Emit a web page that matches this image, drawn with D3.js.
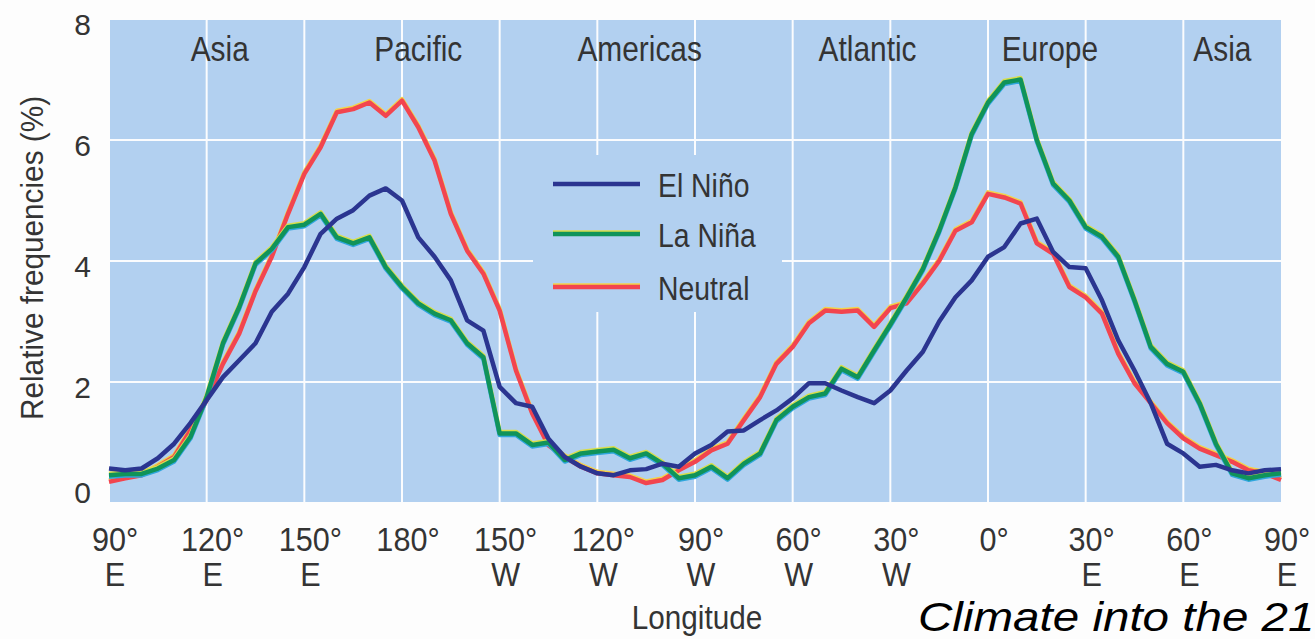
<!DOCTYPE html>
<html lang="en">
<head>
<meta charset="UTF-8">
<title>Relative frequencies by longitude</title>
<script src="https://d3js.org/d3.v7.min.js"></script>
<style>
  body { margin: 0; background: #fdfdfd; }
  svg { display: block; }
  text { font-family: "Liberation Sans", Arial, sans-serif; fill: #343434; }
  .credit { font-style: italic; fill: #000; }
</style>
</head>
<body>
<script>
// longitude, counted eastward from 90°E (so 450 = 90°E again)
var lon = [90, 95, 100, 105, 110, 115, 120, 125, 130, 135, 140, 145, 150, 155, 160, 165, 170, 175,
           180, 185, 190, 195, 200, 205, 210, 215, 220, 225, 230, 235, 240, 245, 250, 255, 260, 265,
           270, 275, 280, 285, 290, 295, 300, 305, 310, 315, 320, 325, 330, 335, 340, 345, 350, 355,
           360, 365, 370, 375, 380, 385, 390, 395, 400, 405, 410, 415, 420, 425, 430, 435, 440, 445, 450];

var elNino = [0.57, 0.54, 0.57, 0.74, 0.98, 1.32, 1.7, 2.08, 2.36, 2.64, 3.16, 3.46, 3.9, 4.45, 4.7, 4.84, 5.08, 5.2,
              5.0, 4.39, 4.07, 3.68, 3.02, 2.85, 1.92, 1.65, 1.59, 1.06, 0.76, 0.6, 0.49, 0.46, 0.54, 0.56, 0.65, 0.6,
              0.82, 0.96, 1.18, 1.2, 1.37, 1.53, 1.73, 1.98, 1.98, 1.86, 1.75, 1.65, 1.86, 2.19, 2.5, 3.0, 3.4, 3.68,
              4.07, 4.23, 4.62, 4.7, 4.15, 3.9, 3.88, 3.35, 2.69, 2.19, 1.65, 0.98, 0.82, 0.6, 0.63, 0.54, 0.49, 0.54, 0.56];

var laNina = [0.46, 0.48, 0.48, 0.57, 0.71, 1.09, 1.75, 2.64, 3.24, 3.96, 4.2, 4.56, 4.6, 4.78, 4.39, 4.29, 4.39, 3.9,
              3.57, 3.3, 3.13, 3.02, 2.64, 2.41, 1.15, 1.15, 0.96, 1.0, 0.71, 0.82, 0.85, 0.88, 0.74, 0.82, 0.65, 0.41,
              0.46, 0.6, 0.41, 0.65, 0.82, 1.37, 1.59, 1.75, 1.81, 2.22, 2.08, 2.52, 2.95, 3.4, 3.87, 4.5, 5.22, 6.1,
              6.62, 6.95, 7.0, 6.0, 5.28, 5.0, 4.56, 4.4, 4.07, 3.35, 2.58, 2.3, 2.17, 1.65, 0.98, 0.49, 0.41, 0.46, 0.49];

var neutral = [0.35, 0.41, 0.46, 0.6, 0.76, 1.2, 1.7, 2.3, 2.8, 3.5, 4.07, 4.78, 5.44, 5.88, 6.46, 6.51, 6.62, 6.4,
               6.65, 6.21, 5.66, 4.78, 4.17, 3.79, 3.18, 2.19, 1.48, 0.95, 0.76, 0.6, 0.49, 0.46, 0.43, 0.33, 0.38, 0.54,
               0.68, 0.87, 0.98, 1.37, 1.75, 2.3, 2.58, 2.97, 3.18, 3.16, 3.18, 2.91, 3.22, 3.3, 3.63, 4.0, 4.5, 4.64,
               5.11, 5.05, 4.95, 4.29, 4.12, 3.57, 3.4, 3.13, 2.47, 1.98, 1.65, 1.32, 1.07, 0.9, 0.79, 0.68, 0.54, 0.49, 0.38];

var seriesNames = ["El Niño", "La Niña", "Neutral"];

var tickLon = [90, 120, 150, 180, 210, 240, 270, 300, 330, 360, 390, 420, 450];
var tickDeg = ["90°", "120°", "150°", "180°", "150°", "120°", "90°", "60°", "30°", "0°", "30°", "60°", "90°"];
var tickHemi = ["E", "E", "E", "", "W", "W", "W", "W", "W", "", "E", "E", "E"];

var yTicks = [0, 2, 4, 6, 8];

var regionNames = ["Asia", "Pacific", "Americas", "Atlantic", "Europe", "Asia"];
var regionLon = [124, 185, 253, 323, 379, 432];

var W = 1315, H = 639;
var bg = "#b2d0f0";

var x = d3.scaleLinear().domain([90, 450]).range([109, 1281]);
var y = d3.scaleLinear().domain([0, 8]).range([503, 19]);

var svg = d3.select("body").append("svg")
    .attr("width", W)
    .attr("height", H);

// the print uses a condensed face; squeeze Liberation Sans horizontally
function label(parent, px, py, str, size, anchor, sx, rot) {
    return parent.append("text")
        .attr("transform", "translate(" + px + "," + py + ")" + (rot ? " rotate(" + rot + ")" : "") + " scale(" + sx + ",1)")
        .attr("text-anchor", anchor)
        .style("font-size", size + "px")
        .text(str);
}

// plot background
svg.append("rect")
    .attr("x", 110).attr("y", 20)
    .attr("width", 1171).attr("height", 482)
    .attr("fill", bg);

// grid
var grid = svg.append("g").attr("stroke", "#fff").attr("stroke-width", 2).attr("opacity", 0.95);
grid.selectAll("line.v")
    .data(tickLon.slice(1, -1))
    .enter().append("line")
    .attr("class", "v")
    .attr("x1", d => x(d)).attr("x2", d => x(d))
    .attr("y1", 20).attr("y2", 502);
grid.selectAll("line.h")
    .data([2, 4, 6])
    .enter().append("line")
    .attr("class", "h")
    .attr("x1", 110).attr("x2", 1281)
    .attr("y1", d => y(d)).attr("y2", d => y(d));

// legend box hides the grid under it
svg.append("rect")
    .attr("x", 533).attr("y", 155)
    .attr("width", 249).attr("height", 157)
    .attr("fill", bg);

// region names
regionNames.forEach(function(name, i) {
    label(svg, x(regionLon[i]), 61, name, 36, "middle", 0.83);
});

// lines, with a slight colour fringe like the print
var line = d3.line()
    .x((d, i) => x(lon[i]))
    .y(d => y(d));

function drawSeries(values, color, fringes) {
    fringes.forEach(function(f) {
        svg.append("path")
            .attr("d", line(values))
            .attr("fill", "none")
            .attr("stroke", f[0])
            .attr("stroke-width", 4.5)
            .attr("stroke-linejoin", "round")
            .attr("transform", "translate(0," + f[1] + ")");
    });
    svg.append("path")
        .attr("d", line(values))
        .attr("fill", "none")
        .attr("stroke", color)
        .attr("stroke-width", 4.5)
        .attr("stroke-linejoin", "round");
}

drawSeries(neutral, "#f2454f", [["#f3d34a", -1.5]]);
drawSeries(laNina, "#10935a", [["#d8de4a", -1.5], ["#2fa6dc", 1.5]]);
drawSeries(elNino, "#2b3590", []);

// legend
var legendColors = ["#2b3590", "#10935a", "#f2454f"];
var legendFringe = [null, "#d8de4a", "#f3d34a"];
var legendY = [184, 234, 287];
var lg = svg.append("g");
seriesNames.forEach(function(name, i) {
    if (legendFringe[i]) {
        lg.append("line")
            .attr("x1", 553).attr("x2", 640)
            .attr("y1", legendY[i] - 1.5).attr("y2", legendY[i] - 1.5)
            .attr("stroke", legendFringe[i]).attr("stroke-width", 4.5);
    }
    lg.append("line")
        .attr("x1", 553).attr("x2", 640)
        .attr("y1", legendY[i]).attr("y2", legendY[i])
        .attr("stroke", legendColors[i]).attr("stroke-width", 4.5);
    label(lg, 658, legendY[i] + 13, name, 33, "start", 0.86);
});

// y axis labels
yTicks.forEach(function(v) {
    label(svg, 91, v === 0 ? y(v) : y(v) + 16, String(v), 30, "end", 1);
});

label(svg, 43, 258, "Relative frequencies (%)", 32, "middle", 0.93, -90);

// x axis labels, two rows
tickLon.forEach(function(d, i) {
    label(svg, x(d) + 6, 551, tickDeg[i], 34, "middle", 0.9);
    if (tickHemi[i]) label(svg, x(d) + 6, 586, tickHemi[i], 34, "middle", 0.9);
});

label(svg, 697, 629, "Longitude", 33, "middle", 0.9);

svg.append("text")
    .attr("class", "credit")
    .attr("transform", "translate(918,631) scale(1.16,1)")
    .style("font-size", "41px")
    .text("Climate into the 21");
</script>
</body>
</html>
